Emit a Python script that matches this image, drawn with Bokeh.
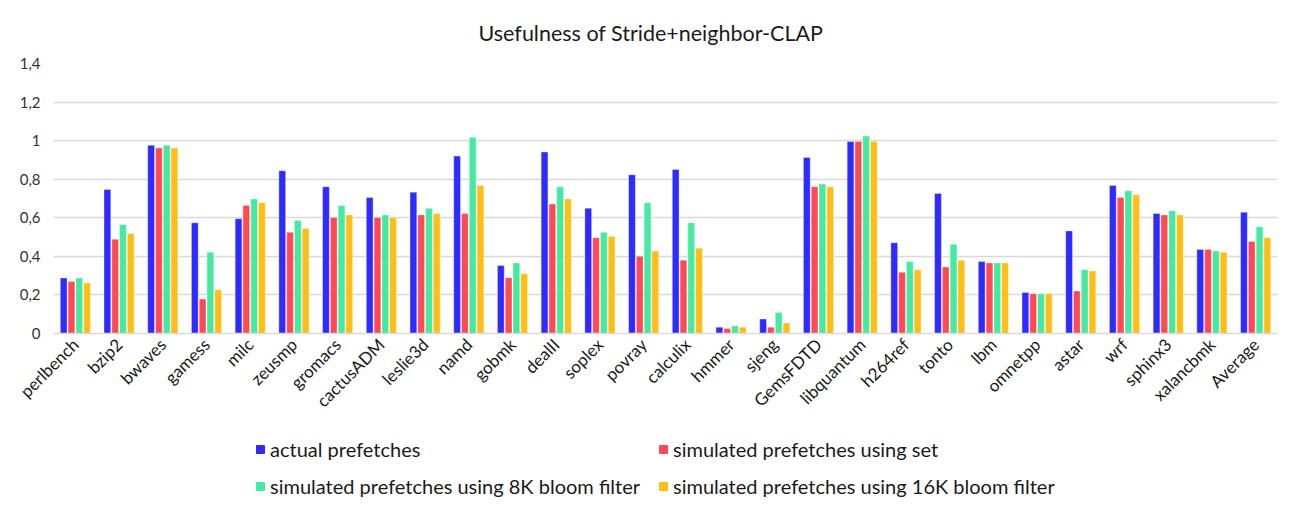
from bokeh.plotting import figure
from bokeh.layouts import column
from bokeh.models import ColumnDataSource, FixedTicker, Legend, LegendItem
from bokeh.transform import dodge
from bokeh.embed import file_html
from bokeh.resources import INLINE

categories = ["perlbench", "bzip2", "bwaves", "gamess", "milc", "zeusmp", "gromacs",
              "cactusADM", "leslie3d", "namd", "gobmk", "dealII", "soplex", "povray",
              "calculix", "hmmer", "sjeng", "GemsFDTD", "libquantum", "h264ref", "tonto",
              "lbm", "omnetpp", "astar", "wrf", "sphinx3", "xalancbmk", "Average"]
actual = [0.288, 0.747, 0.976, 0.574, 0.595, 0.844, 0.761, 0.705, 0.733, 0.920,
          0.352, 0.941, 0.650, 0.823, 0.851, 0.033, 0.075, 0.913, 0.996, 0.470,
          0.726, 0.373, 0.213, 0.532, 0.768, 0.622, 0.435, 0.629]
sim_set = [0.269, 0.489, 0.962, 0.179, 0.664, 0.525, 0.601, 0.601, 0.615, 0.622,
           0.289, 0.671, 0.497, 0.400, 0.380, 0.026, 0.033, 0.761, 0.996, 0.317,
           0.345, 0.366, 0.206, 0.220, 0.705, 0.615, 0.435, 0.477]
sim_8k = [0.288, 0.565, 0.976, 0.421, 0.698, 0.586, 0.664, 0.615, 0.650, 1.017,
          0.366, 0.761, 0.525, 0.678, 0.574, 0.040, 0.109, 0.775, 1.024, 0.373,
          0.463, 0.366, 0.206, 0.331, 0.740, 0.636, 0.428, 0.553]
sim_16k = [0.262, 0.518, 0.962, 0.227, 0.678, 0.544, 0.615, 0.601, 0.622, 0.768,
           0.310, 0.698, 0.504, 0.428, 0.442, 0.033, 0.054, 0.761, 0.996, 0.331,
           0.380, 0.366, 0.206, 0.324, 0.719, 0.615, 0.421, 0.497]
series_labels = ["actual prefetches", "simulated prefetches using set",
                 "simulated prefetches using 8K bloom filter",
                 "simulated prefetches using 16K bloom filter"]
colors = ["#2E2BFF", "#FF4A55", "#45EAA1", "#FFBE17"]
y_ticks = [0, 0.2, 0.4, 0.6, 0.8, 1.0, 1.2, 1.4]
y_tick_labels = ["0", "0,2", "0,4", "0,6", "0,8", "1", "1,2", "1,4"]

src = ColumnDataSource(dict(cat=categories, actual=actual, sim_set=sim_set,
                            sim_8k=sim_8k, sim_16k=sim_16k))

p = figure(x_range=categories, y_range=(0, 1.4), width=1290, height=430,
           output_backend="svg", toolbar_location=None,
           min_border_left=53, min_border_right=13, min_border_top=63,
           min_border_bottom=97)
p.outline_line_color = None
p.background_fill_color = "white"
p.border_fill_color = "white"

p.title.text = "Usefulness of Stride+neighbor-CLAP"
p.title.align = "left"
p.title.text_font = "Lato"
p.title.text_font_size = "21.5px"
p.title.text_font_style = "normal"
p.title.text_color = "#1a1a1a"
p.title.offset = 425
p.title.standoff = 35

offsets = [-0.267, -0.089, 0.089, 0.267]
fields = ["actual", "sim_set", "sim_8k", "sim_16k"]
for f, off, c in zip(fields, offsets, colors):
    p.vbar(x=dodge("cat", off, range=p.x_range), top=f, width=0.155, source=src,
           fill_color=c, line_color="white", line_alpha=0.35, line_width=1)

p.yaxis.ticker = FixedTicker(ticks=y_ticks)
p.yaxis.major_label_overrides = {t: l for t, l in zip(y_ticks, y_tick_labels)}
p.yaxis.axis_line_color = None
p.yaxis.major_tick_line_color = None
p.yaxis.minor_tick_line_color = None
p.yaxis.major_label_standoff = 7
p.yaxis.major_label_text_font = "Lato"
p.yaxis.major_label_text_font_size = "15px"
p.yaxis.major_label_text_color = "#333333"

p.xaxis.axis_line_color = "#D9D9D9"
p.xaxis.axis_line_width = 1.5
p.xaxis.major_tick_line_color = None
p.xaxis.minor_tick_line_color = None
p.xaxis.major_label_orientation = 0.785398
p.xaxis.major_label_standoff = 2
p.xaxis.major_label_text_font = "Lato"
p.xaxis.major_label_text_font_size = "17px"
p.xaxis.major_label_text_color = "#1a1a1a"

p.xgrid.grid_line_color = None
p.ygrid.grid_line_color = "#D9D9D9"
p.ygrid.grid_line_width = 1.5

# legend figure
lg = figure(width=1290, height=81, output_backend="svg", toolbar_location=None,
            x_range=(0, 1), y_range=(0, 1),
            min_border_left=0, min_border_right=0, min_border_top=0,
            min_border_bottom=0)
lg.axis.visible = False
lg.grid.visible = False
lg.outline_line_color = None
lg.background_fill_color = "white"
lg.border_fill_color = "white"

nan = float("nan")
items = []
for lab, c in zip(series_labels, colors):
    r = lg.scatter(x=[nan], y=[nan], marker="square", size=8,
                   fill_color=c, line_color=c)
    items.append(LegendItem(label=lab, renderers=[r]))

legend = Legend(items=items, orientation="horizontal", ncols=2,
                location=(197, 13), padding=0, margin=0, spacing=13,
                glyph_width=20, glyph_height=24, label_standoff=0,
                label_width=300, label_height=24,
                label_text_font="Lato", label_text_font_size="20px",
                label_text_color="#1a1a1a",
                border_line_alpha=0, background_fill_alpha=0)
lg.add_layout(legend, "center")

layout = column(p, lg, spacing=0)
open("out.html", "w").write(file_html(layout, INLINE))
